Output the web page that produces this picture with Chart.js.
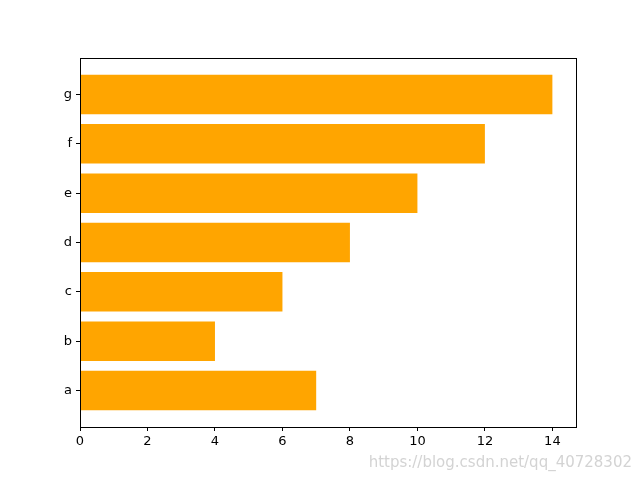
<!DOCTYPE html>
<html>
<head>
<meta charset="utf-8">
<script src="https://cdn.jsdelivr.net/npm/chart.js@4"></script>
<style>html,body{margin:0;padding:0;background:#fff}</style>
</head>
<body>
<canvas id="c" width="640" height="480"></canvas>
<script>
const categories = ['a', 'b', 'c', 'd', 'e', 'f', 'g'];
const values = [7, 4, 6, 8, 10, 12, 14];
const xTicks = [0, 2, 4, 6, 8, 10, 12, 14];

const frame = {
  id: 'frame',
  afterDraw(chart) {
    const { ctx, chartArea: a } = chart;
    ctx.save();
    ctx.strokeStyle = '#000';
    ctx.lineWidth = 1;
    ctx.strokeRect(a.left + 0.5, a.top + 0.5, a.right - a.left, a.bottom - a.top);
    ctx.fillStyle = 'rgba(200,200,200,0.8)';
    ctx.font = '15px "DejaVu Sans"';
    ctx.textAlign = 'right';
    ctx.fillText('https://blog.csdn.net/qq_40728302', 632, 467);
    ctx.restore();
  }
};

new Chart(document.getElementById('c'), {
  type: 'bar',
  data: {
    datasets: [{
      data: values.map((v, i) => ({ x: v, y: i })),
      backgroundColor: '#ffa500',
      categoryPercentage: 1,
      barPercentage: 0.8
    }]
  },
  options: {
    indexAxis: 'y',
    responsive: false,
    animation: false,
    layout: { padding: { left: 0, right: 64, top: 58, bottom: 0 } },
    plugins: { legend: { display: false }, tooltip: { enabled: false } },
    scales: {
      x: {
        type: 'linear', min: 0, max: 14.7,
        afterBuildTicks(s) { s.ticks = xTicks.map(v => ({ value: v })); },
        afterFit(s) { s.height = 53; },
        grid: { drawOnChartArea: false, drawTicks: true, tickLength: 4, color: '#000' },
        border: { display: true, color: '#000' },
        ticks: { color: '#000', font: { family: 'DejaVu Sans', size: 13 }, padding: 3, maxRotation: 0 }
      },
      y: {
        type: 'linear', min: -0.74, max: 6.74, offset: false,
        afterBuildTicks(s) { s.ticks = categories.map((c, i) => ({ value: i })); },
        afterFit(s) { s.width = 80; },
        grid: { offset: false, drawOnChartArea: false, drawTicks: true, tickLength: 4, color: '#000' },
        border: { display: true, color: '#000' },
        ticks: {
          color: '#000', font: { family: 'DejaVu Sans', size: 13 }, padding: 4,
          callback: v => categories[v]
        }
      }
    }
  },
  plugins: [frame]
});
</script>
</body>
</html>
